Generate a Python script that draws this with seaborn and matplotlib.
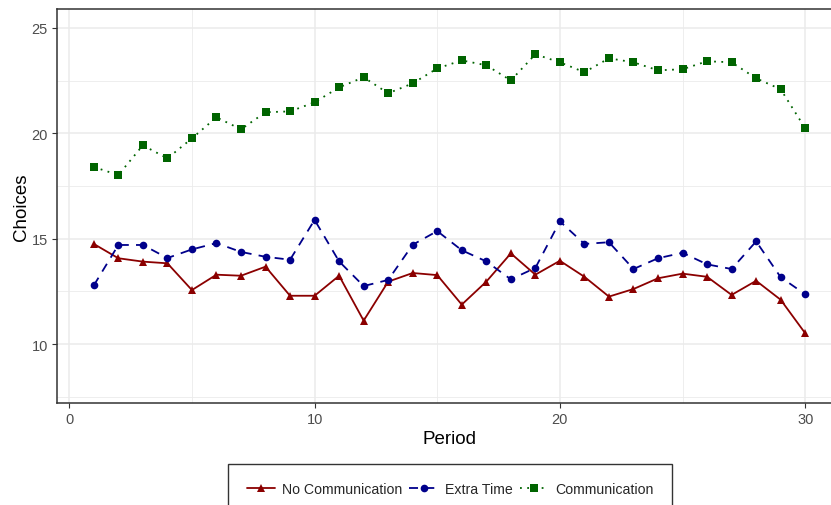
#!/usr/bin/env python3
"""Choices per period by treatment."""

import pandas as pd
import matplotlib
matplotlib.use("Agg")
import matplotlib.pyplot as plt
from matplotlib.ticker import MultipleLocator
import seaborn as sns

periods = list(range(1, 31))

no_communication = [
    14.75, 14.07, 13.91, 13.83, 12.56, 13.29, 13.24, 13.67, 12.29, 12.29,
    13.24, 11.11, 12.96, 13.37, 13.27, 11.87, 12.96, 14.30, 13.29, 13.95,
    13.19, 12.25, 12.61, 13.12, 13.34, 13.19, 12.33, 13.00, 12.10, 10.51,
]
extra_time = [
    12.78, 14.70, 14.70, 14.08, 14.49, 14.79, 14.37, 14.14, 14.00, 15.89,
    13.92, 12.75, 13.04, 14.71, 15.36, 14.45, 13.92, 13.07, 13.61, 15.82,
    14.75, 14.83, 13.56, 14.07, 14.33, 13.78, 13.56, 14.87, 13.17, 12.36,
]
communication = [
    18.40, 18.02, 19.43, 18.81, 19.76, 20.76, 20.19, 21.00, 21.04, 21.47,
    22.18, 22.66, 21.90, 22.37, 23.08, 23.46, 23.23, 22.51, 23.75, 23.37,
    22.90, 23.56, 23.37, 22.99, 23.04, 23.42, 23.37, 22.61, 22.09, 20.24,
]

sns.set_theme(style="white")
plt.rcParams["font.family"] = ["Liberation Sans", "DejaVu Sans"]

df = pd.DataFrame({
    "Period": periods * 3,
    "Choices": no_communication + extra_time + communication,
    "Treatment": (["No Communication"] * 30 + ["Extra Time"] * 30
                  + ["Communication"] * 30),
})

styles = {
    "No Communication": dict(color="#8b0000", linestyle="-", marker="^"),
    "Extra Time": dict(color="#00008b", linestyle=(0, (5, 4)), marker="o"),
    "Communication": dict(color="#006400", linestyle=(0, (1, 3)), marker="s"),
}

fig = plt.figure(figsize=(8.31, 5.06), dpi=100)
ax = fig.add_axes([57 / 831, 1 - 404 / 506, (842 - 57) / 831, (404 - 10) / 506])

for name, st in styles.items():
    sub = df[df["Treatment"] == name]
    sns.lineplot(data=sub, x="Period", y="Choices", ax=ax, label=name,
                 color=st["color"], linestyle=st["linestyle"], marker=st["marker"],
                 markersize=5.5, markeredgewidth=0, linewidth=1.3)

ax.set_xlim(-0.5, 31.5)
ax.set_ylim(7.2, 25.9)
ax.xaxis.set_major_locator(MultipleLocator(10))
ax.xaxis.set_minor_locator(MultipleLocator(5))
ax.yaxis.set_major_locator(MultipleLocator(5))
ax.yaxis.set_minor_locator(MultipleLocator(2.5))
ax.grid(which="major", color="#ebebeb", linewidth=1.1)
ax.grid(which="minor", color="#ebebeb", linewidth=0.6)
ax.set_axisbelow(True)

for sp in ax.spines.values():
    sp.set_color("#333333")
    sp.set_linewidth(1.1)

ax.tick_params(axis="both", which="major", length=3.5, width=0.8, color="#333333",
               labelsize=10.5, labelcolor="#4d4d4d", bottom=True, left=True, pad=3)
ax.tick_params(which="minor", length=0)
ax.set_xlabel("Period", fontsize=13.5, color="black", labelpad=3)
ax.set_ylabel("Choices", fontsize=13.5, color="black", labelpad=1)

leg = ax.legend(loc="center", bbox_to_anchor=(450 / 831, 1 - 490 / 506),
                bbox_transform=fig.transFigure, ncol=3, frameon=True,
                fancybox=False, edgecolor="black", fontsize=10.2,
                handlelength=2.0, handletextpad=0.5, columnspacing=0.5,
                borderpad=1.3, markerscale=1.0)
leg.get_frame().set_linewidth(1.0)

fig.savefig("out.png", dpi=100)
